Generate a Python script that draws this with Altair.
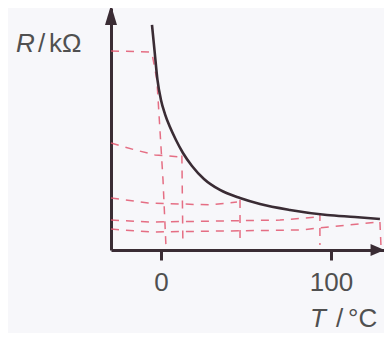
import altair as alt
import pandas as pd

# Curve R(T) of the thermistor (R in arbitrary kΩ units)
curve_T = [-5.29, -3.82, -2.06, 0.0, 2.35, 5.29, 8.82, 12.94, 18.24, 25.29, 34.71, 46.47, 58.24, 75.88, 97.65, 114.1, 128.8]
curve_R = [10.23, 9.09, 7.73, 6.82, 6.18, 5.59, 5.0, 4.41, 3.82, 3.23, 2.73, 2.36, 2.09, 1.82, 1.59, 1.50, 1.41]

# Hand-drawn red dashed guide lines (polylines)
guide_seg = ["a"] * 7 + ["b"] * 4 + ["b2"] * 2 + ["c"] * 4 + ["c2"] * 2 + ["d"] * 4 + ["d2"] * 2 + ["e"] * 4 + ["e2"] * 2
guide_T = [-29.4, -6.5, -5.3, -2.4, -0.6, 1.2, 2.9,
           -29.4, -15.3, -3.5, 11.2,
           12.3, 12.9,
           -29.4, -7.6, 28.8, 44.7,
           46.5, 46.5,
           -29.4, -6.5, 70.0, 92.4,
           93.5, 93.5,
           -29.4, -5.3, 81.8, 127.6,
           128.8, 129.4]
guide_R = [9.05, 9.0, 8.95, 7.73, 5.45, 3.18, 0.23,
           4.86, 4.55, 4.32, 4.23,
           4.3, 0.23,
           2.36, 2.14, 2.05, 2.18,
           2.27, 0.23,
           1.36, 1.27, 1.36, 1.5,
           1.68, 0.23,
           0.95, 0.82, 0.91, 1.27,
           1.27, 0.23]

x_ticks = [0, 100]
x_domain = [-29.4, 131.2]
y_domain = [0, 11]

FONT = "Liberation Sans"
DARK = "#3a2c34"
RED = "#e2566e"
TXT = "#505050"

curve_df = pd.DataFrame({"T": curve_T, "R": curve_R})
guide_df = pd.DataFrame({"seg": guide_seg, "T": guide_T, "R": guide_R})

xs = alt.Scale(domain=x_domain, nice=False, zero=False)
ys = alt.Scale(domain=y_domain, nice=False, zero=False)

x_axis = alt.Axis(values=x_ticks, title=None, grid=False, domainColor=DARK, domainWidth=3,
                  tickColor=DARK, tickWidth=3, tickSize=10, labelFont=FONT, labelFontSize=26,
                  labelColor=TXT, labelPadding=9, format="d")
y_axis = alt.Axis(title=None, grid=False, labels=False, ticks=False, domainColor=DARK, domainWidth=3)

guides = alt.Chart(guide_df).mark_line(color=RED, strokeWidth=1.5, strokeDash=[8, 7], opacity=0.85).encode(
    x=alt.X("T:Q", scale=xs, axis=x_axis),
    y=alt.Y("R:Q", scale=ys, axis=y_axis),
    detail="seg:N",
    order=alt.Order("idx:Q"),
).transform_window(idx="row_number()", groupby=["seg"])

curve = alt.Chart(curve_df).mark_line(color=DARK, strokeWidth=2.6, interpolate="monotone").encode(
    x=alt.X("T:Q", scale=xs),
    y=alt.Y("R:Q", scale=ys),
)

arrow_y = alt.Chart(pd.DataFrame({"T": [x_domain[0]], "R": [10.68]})).mark_point(
    shape="M0,-1L0.6,1L-0.6,1Z", size=400, filled=True, color=DARK, opacity=1
).encode(x=alt.X("T:Q", scale=xs), y=alt.Y("R:Q", scale=ys))

arrow_x = alt.Chart(pd.DataFrame({"T": [127.4], "R": [0]})).mark_point(
    shape="M1,0L-1,-0.85L-1,0.85Z", size=196, filled=True, color=DARK, opacity=1
).encode(x=alt.X("T:Q", scale=xs), y=alt.Y("R:Q", scale=ys))

def label(txt, x, y, italic=False):
    return alt.Chart(pd.DataFrame({"t": [txt]})).mark_text(
        font=FONT, fontSize=26, color=TXT, align="left", baseline="alphabetic",
        fontStyle="italic" if italic else "normal"
    ).encode(text="t:N", x=alt.value(x), y=alt.value(y))

labels = [
    label("R", -95, 44, italic=True),
    label("/", -73, 44),
    label("kΩ", -62, 44),
    label("T", 199, 319, italic=True),
    label("/", 225, 319),
    label("°C", 237, 319),
]

chart = alt.layer(guides, curve, arrow_y, arrow_x, *labels).properties(
    width=273, height=242,
    padding={"left": 103, "top": 0, "right": 0, "bottom": 83},
    autosize="none",
    background="#f7f7fa",
).configure_view(stroke=None)

chart.save("out.html", embed_options={"renderer": "svg", "actions": False})
